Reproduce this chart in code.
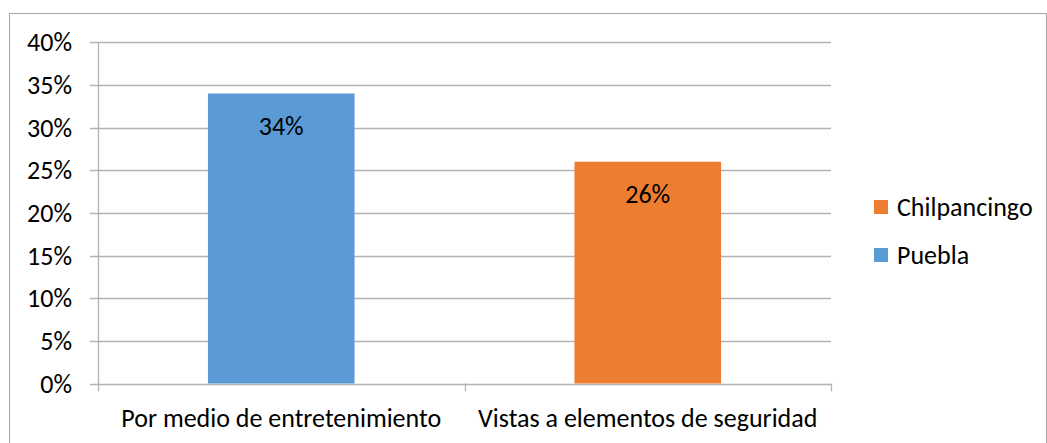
<!DOCTYPE html>
<html>
<head>
<meta charset="utf-8">
<script src="https://cdn.jsdelivr.net/npm/d3@7"></script>
<style>
	html, body { margin: 0; padding: 0; background: #fff; }
	svg { display: block; font-family: Carlito, Lato, 'Open Sans', sans-serif; }
</style>
</head>
<body>
<div id="chart"></div>
<script>
	const categories = ['Por medio de entretenimiento', 'Vistas a elementos de seguridad'];
	const seriesNames = ['Chilpancingo', 'Puebla'];
	const barSeries = ['Puebla', 'Chilpancingo'];
	const barValues = [0.34, 0.26];
	const yTicks = [0, 0.05, 0.1, 0.15, 0.2, 0.25, 0.3, 0.35, 0.4];

	const colors = { Puebla: '#5B9BD5', Chilpancingo: '#ED7D31' };

	const width = 1047;
	const height = 443;
	const margin = { top: 42.3, right: 216, bottom: 59.5, left: 98 };
	const fontSize = 26;

	const svg = d3
		.select('#chart')
		.append('svg')
		.attr('width', width)
		.attr('height', height);

	// outer frame
	svg.append('rect')
		.attr('x', 9.5)
		.attr('y', 13.5)
		.attr('width', width - 10)
		.attr('height', height)
		.attr('fill', 'none')
		.attr('stroke', '#a6a6a6');

	const x = d3
		.scaleBand()
		.domain(categories)
		.range([margin.left, width - margin.right])
		.paddingInner(0.6)
		.paddingOuter(0.3);

	const y = d3
		.scaleLinear()
		.domain([0, 0.4])
		.range([height - margin.bottom, margin.top]);

	// gridlines
	svg.append('g')
		.selectAll('line')
		.data(yTicks)
		.join('line')
		.attr('x1', margin.left - 8)
		.attr('x2', width - margin.right)
		.attr('y1', (d) => Math.round(y(d)) + 0.5)
		.attr('y2', (d) => Math.round(y(d)) + 0.5)
		.attr('stroke', '#b3b3b3')
		.attr('stroke-width', 1.3);

	// y axis labels
	svg.append('g')
		.selectAll('text')
		.data(yTicks)
		.join('text')
		.attr('x', 72)
		.attr('y', (d) => y(d))
		.attr('dy', '0.35em')
		.attr('text-anchor', 'end')
		.attr('font-size', fontSize)
		.attr('fill', '#000')
		.text(d3.format('.0%'));

	// vertical axis line
	svg.append('line')
		.attr('x1', margin.left + 0.5)
		.attr('x2', margin.left + 0.5)
		.attr('y1', y(0.4))
		.attr('y2', y(0))
		.attr('stroke', '#b3b3b3')
		.attr('stroke-width', 1.3);

	// category ticks on x axis
	const step = x.step();
	const catEdges = [margin.left, margin.left + step, margin.left + 2 * step];
	svg.append('g')
		.selectAll('line')
		.data(catEdges)
		.join('line')
		.attr('x1', (d) => Math.round(d) + 0.5)
		.attr('x2', (d) => Math.round(d) + 0.5)
		.attr('y1', y(0))
		.attr('y2', y(0) + 8)
		.attr('stroke', '#b3b3b3')
		.attr('stroke-width', 1.3);

	// bars
	svg.append('g')
		.selectAll('rect')
		.data(categories)
		.join('rect')
		.attr('x', (d) => x(d))
		.attr('y', (d, i) => y(barValues[i]))
		.attr('width', x.bandwidth())
		.attr('height', (d, i) => y(0) - y(barValues[i]))
		.attr('fill', (d, i) => colors[barSeries[i]]);

	// value labels inside bar tops
	svg.append('g')
		.selectAll('text')
		.data(categories)
		.join('text')
		.attr('x', (d) => x(d) + x.bandwidth() / 2)
		.attr('y', (d, i) => y(barValues[i]) + 32)
		.attr('dy', '0.35em')
		.attr('text-anchor', 'middle')
		.attr('font-size', fontSize)
		.attr('fill', '#000')
		.text((d, i) => d3.format('.0%')(barValues[i]));

	// category labels
	svg.append('g')
		.selectAll('text')
		.data(categories)
		.join('text')
		.attr('x', (d) => x(d) + x.bandwidth() / 2)
		.attr('y', 418)
		.attr('dy', '0.35em')
		.attr('text-anchor', 'middle')
		.attr('font-size', fontSize)
		.attr('fill', '#000')
		.text((d) => d);

	// legend
	const legend = svg
		.append('g')
		.selectAll('g')
		.data(seriesNames)
		.join('g')
		.attr('transform', (d, i) => `translate(874, ${200 + i * 48})`);

	legend.append('rect')
		.attr('width', 14)
		.attr('height', 14)
		.attr('fill', (d) => colors[d]);

	legend.append('text')
		.attr('x', 23)
		.attr('y', 7)
		.attr('dy', '0.35em')
		.attr('font-size', fontSize)
		.attr('fill', '#000')
		.text((d) => d);
</script>
</body>
</html>
